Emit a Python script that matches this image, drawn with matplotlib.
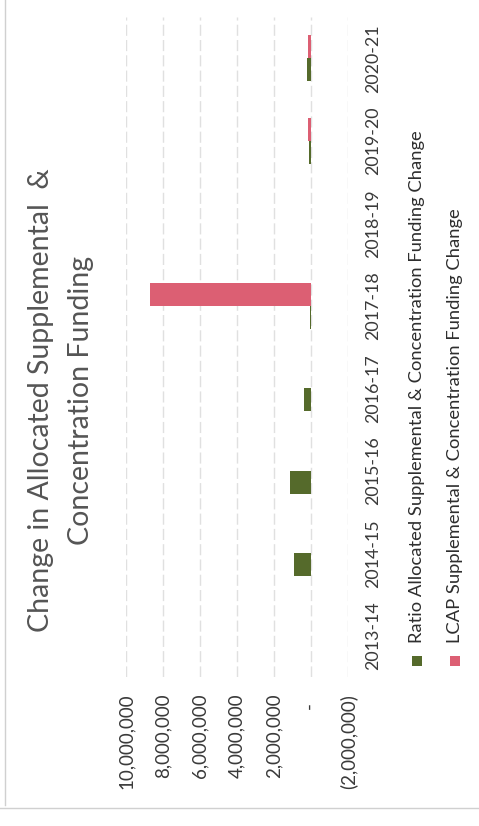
import numpy as np
import matplotlib
matplotlib.use('Agg')
import matplotlib.pyplot as plt
from matplotlib.ticker import FuncFormatter
from matplotlib.patches import Rectangle
from matplotlib.lines import Line2D

# Data
categories = ['2013-14', '2014-15', '2015-16', '2016-17', '2017-18', '2018-19', '2019-20', '2020-21']
ratio_change = [0, 900000, 1130000, 380000, 60000, 0, 100000, 220000]
lcap_change = [0, 0, 0, 0, 8700000, 0, 150000, 150000]
value_ticks = [-2000000, 0, 2000000, 4000000, 6000000, 8000000, 10000000]
series_labels = ['Ratio Allocated Supplemental & Concentration Funding Change',
                 'LCAP Supplemental & Concentration Funding Change']
title_lines = ['Change in Allocated Supplemental  &', 'Concentration Funding']

GREEN = '#556A2B'
PINK = '#DC5F73'
W, H = 479, 826

plt.rcParams['font.family'] = ['Lato', 'DejaVu Sans']


def px(x, y):
    """Pixel coordinates (origin top-left) to figure fraction."""
    return x / W, 1 - y / H


def accounting(v, pos):
    if v == 0:
        return '-  '
    if v < 0:
        return f'({abs(v):,.0f})'
    return f'{v:,.0f}'


fig = plt.figure(figsize=(W / 100, H / 100), dpi=100)
ax = fig.add_axes([126 / W, 1 - 677 / H, (348 - 126) / W, (677 - 17) / H])

y = np.arange(len(categories))
bar_h = 0.28
ax.barh(y - bar_h / 2, ratio_change, height=bar_h, color=GREEN, zorder=3)
ax.barh(y + bar_h / 2, lcap_change, height=bar_h, color=PINK, zorder=3)

ax.set_xlim(10000000, -2000000)
ax.set_ylim(-0.5, len(categories) - 0.5)

ax.set_xticks(value_ticks)
ax.xaxis.set_major_formatter(FuncFormatter(accounting))
ax.tick_params(axis='x', length=0, pad=12, labelsize=13.5, labelcolor='#3A3A3A', labelrotation=90)

ax.yaxis.tick_right()
ax.set_yticks(y)
ax.set_yticklabels(categories)
ax.tick_params(axis='y', length=0, pad=12, labelsize=12.8, labelcolor='#3A3A3A', labelrotation=90)
for lbl in ax.get_yticklabels():
    lbl.set_verticalalignment('center')

ax.grid(axis='x', color='#E0E0E0', linewidth=1, linestyle=(0, (8, 3)), zorder=0)
for s in ax.spines.values():
    s.set_visible(False)

# Title, rotated with the rest of the chart
fig.text(*px(41, 400), title_lines[0], rotation=90, ha='center', va='center',
         fontsize=20.5, color='#555555')
fig.text(*px(81, 400), title_lines[1], rotation=90, ha='center', va='center',
         fontsize=20.5, color='#555555')

# Legend drawn by hand so the text can run vertically
for xc, color, label in [(417, GREEN, series_labels[0]), (455, PINK, series_labels[1])]:
    x0, y0 = px(xc - 5, 666)
    fig.patches.append(Rectangle((x0, y0), 10 / W, 10 / H, transform=fig.transFigure,
                                 facecolor=color, edgecolor='none'))
    fig.text(*px(xc, 643), label, rotation=90, ha='center', va='bottom',
             fontsize=13.2, color='#2E2E2E')

# Chart border
fig.lines.append(Line2D([5 / W, 5 / W], [1 - 805 / H, 1], transform=fig.transFigure,
                        color='#D0D0D0', linewidth=1))
fig.lines.append(Line2D([0, 1], [1 - 808 / H, 1 - 808 / H], transform=fig.transFigure,
                        color='#D0D0D0', linewidth=1))

fig.savefig('out.png', dpi=100)
